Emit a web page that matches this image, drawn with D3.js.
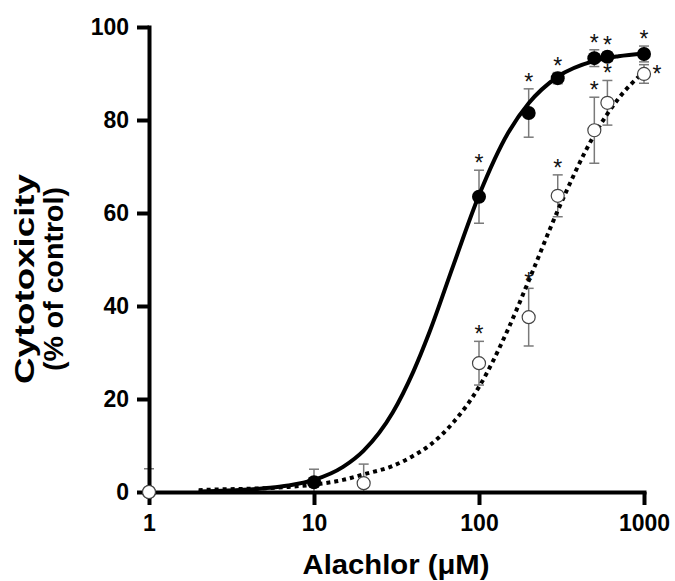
<!DOCTYPE html>
<html>
<head>
<meta charset="utf-8">
<script src="https://cdn.jsdelivr.net/npm/d3@7/dist/d3.min.js"></script>
<style>
body { margin: 0; background: #fff; }
svg { display: block; font-family: "Liberation Sans", Arial, sans-serif; }
</style>
</head>
<body>
<svg id="chart" width="675" height="581"></svg>
<script>
// measured points (concentration in uM, % cytotoxicity, SD)
var filledDose = [1, 10, 100, 200, 300, 500, 600, 1000];
var filledMean = [0, 2.1, 63.5, 81.5, 89.0, 93.3, 93.6, 94.2];
var filledErr  = [0, 2.8, 5.7, 5.2, 1.2, 1.8, 1.0, 1.7];
var filledSig  = [0, 0, 1, 1, 1, 1, 1, 1];

var openDose = [1, 20, 100, 200, 300, 500, 600, 1000];
var openMean = [0, 1.9, 27.7, 37.6, 63.7, 77.8, 83.7, 89.9];
var openErr  = [5, 4.1, 4.7, 6.2, 4.5, 7.1, 4.8, 2.0];
var openSig  = [0, 0, 1, 1, 1, 1, 1, 1];

// fitted curves
var curveDose = [2, 3, 5, 7, 10, 15, 20, 30, 40, 50, 70, 100, 150, 200, 300, 500, 700, 1000];
var solidFit  = [0.1, 0.3, 0.8, 1.4, 2.6, 5.4, 8.9, 17.1, 25.9, 34.3, 48.8, 63.8, 77.2, 83.6, 89.3, 92.7, 93.7, 94.3];
var dottedFit = [0.4, 0.6, 0.8, 1.1, 1.6, 2.6, 3.8, 5.6, 7.8, 10, 15, 22.6, 35.0, 45.4, 60.5, 76.8, 84.6, 90.4];

var xTicks = [1, 10, 100, 1000];
var yTicks = [0, 20, 40, 60, 80, 100];

var svg = d3.select("#chart");

var x = d3.scaleLog().domain([1, 1000]).range([149, 644]);
var y = d3.scaleLinear().domain([0, 100]).range([492, 27]);

function series(dose, mean, err) {
	return dose.map(function(d, i) { return {d: d, m: mean[i], e: err[i]}; });
}
var filled = series(filledDose, filledMean, filledErr);
var open = series(openDose, openMean, openErr);

// error bars go underneath everything
function errorBars(data) {
	var g = svg.append("g").attr("stroke", "#7a7a7a").attr("stroke-width", 1.5);
	data.forEach(function(p) {
		if (!p.e) return;
		var cx = x(p.d);
		var top = y(p.m + p.e), bot = y(Math.max(0, p.m - p.e));
		g.append("line").attr("x1", cx).attr("x2", cx).attr("y1", top).attr("y2", bot);
		g.append("line").attr("x1", cx - 5).attr("x2", cx + 5).attr("y1", top).attr("y2", top);
		if (p.m - p.e > 0)
			g.append("line").attr("x1", cx - 5).attr("x2", cx + 5).attr("y1", bot).attr("y2", bot);
	});
}
errorBars(filled);
errorBars(open);

// axes
var yAxis = svg.append("g")
	.attr("transform", "translate(149,0)")
	.call(d3.axisLeft(y).tickValues(yTicks).tickSize(12).tickSizeOuter(0).tickPadding(8));
var xAxis = svg.append("g")
	.attr("transform", "translate(0,492)")
	.call(d3.axisBottom(x).tickValues(xTicks).tickFormat(d3.format("d")).tickSize(13).tickSizeOuter(0).tickPadding(10));

[xAxis, yAxis].forEach(function(a) {
	a.selectAll("path, line").attr("stroke", "#000").attr("stroke-width", 4);
	a.select(".domain").attr("stroke-linecap", "square");
	a.selectAll("text").attr("fill", "#000").attr("font-size", 23).attr("font-weight", "bold")
		.attr("font-family", "'Liberation Sans', Arial, sans-serif");
});

// fitted lines
var line = d3.line()
	.x(function(d) { return x(d[0]); })
	.y(function(d) { return y(d[1]); })
	.curve(d3.curveMonotoneX);

svg.append("path")
	.datum(d3.zip(curveDose, dottedFit))
	.attr("d", line)
	.attr("fill", "none")
	.attr("stroke", "#000")
	.attr("stroke-width", 4)
	.attr("stroke-dasharray", "4,4");

svg.append("path")
	.datum(d3.zip(curveDose, solidFit))
	.attr("d", line)
	.attr("fill", "none")
	.attr("stroke", "#000")
	.attr("stroke-width", 4);

// markers
svg.append("g").selectAll("circle")
	.data(filled)
	.join("circle")
	.attr("cx", function(p) { return x(p.d); })
	.attr("cy", function(p) { return y(p.m); })
	.attr("r", 7)
	.attr("fill", "#000");

svg.append("g").selectAll("circle")
	.data(open)
	.join("circle")
	.attr("cx", function(p) { return x(p.d); })
	.attr("cy", function(p) { return y(p.m); })
	.attr("r", 6.5)
	.attr("fill", "#fff")
	.attr("stroke", "#444")
	.attr("stroke-width", 1.2);

// significance stars
function stars(data, sig) {
	data.forEach(function(p, i) {
		if (!sig[i]) return;
		var t = svg.append("text").text("*")
			.attr("font-size", 23)
			.attr("fill", "#111")
			.attr("text-anchor", "middle");
		if (i == data.length - 1 && data === open) {
			t.attr("x", x(p.d) + 13).attr("y", y(p.m) + 8);
		} else {
			t.attr("x", x(p.d)).attr("y", y(p.m + p.e) + 1);
		}
	});
}
stars(filled, filledSig);
stars(open, openSig);

// axis titles
svg.append("text")
	.attr("x", 396).attr("y", 574)
	.attr("text-anchor", "middle")
	.attr("font-size", 28).attr("font-weight", "bold")
	.attr("textLength", 187).attr("lengthAdjust", "spacingAndGlyphs")
	.text("Alachlor (\u03bcM)");

var yt = svg.append("text")
	.attr("transform", "translate(0,279) rotate(-90)")
	.attr("text-anchor", "middle")
	.attr("font-size", 27).attr("font-weight", "bold")
	.attr("lengthAdjust", "spacingAndGlyphs");
yt.append("tspan").attr("x", 0).attr("y", 34).attr("textLength", 210)
	.attr("lengthAdjust", "spacingAndGlyphs").text("Cytotoxicity");
yt.append("tspan").attr("x", 0).attr("y", 63).attr("textLength", 184)
	.attr("lengthAdjust", "spacingAndGlyphs").text("(% of control)");
</script>
</body>
</html>
